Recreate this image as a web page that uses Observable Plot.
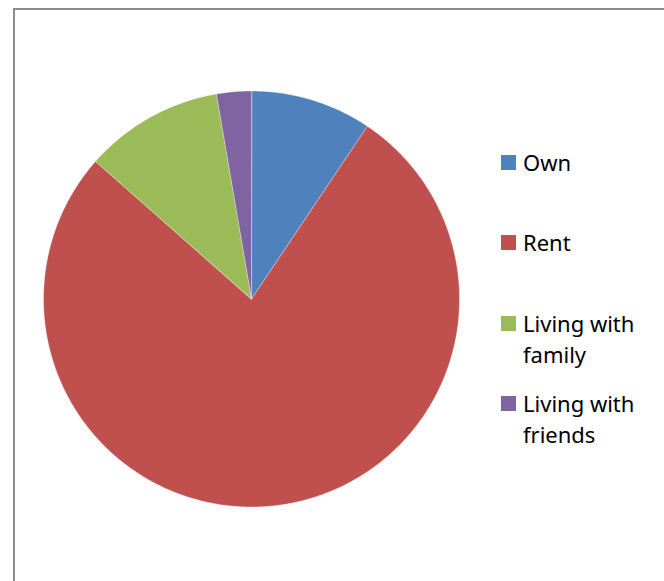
<!DOCTYPE html>
<html>
<head>
<meta charset="utf-8">
<script src="https://cdn.jsdelivr.net/npm/d3@7"></script>
<script src="https://cdn.jsdelivr.net/npm/@observablehq/plot@0.6"></script>
<style>
  html, body { margin: 0; padding: 0; background: #fff; width: 664px; height: 581px; overflow: hidden; }
  #wrap { position: relative; width: 664px; height: 581px; }
  #frame { position: absolute; left: 13px; top: 8px; width: 700px; height: 620px; border: 2px solid #8c8c8c; box-sizing: border-box; }
  #chart { position: absolute; left: 0; top: 0; }
  #legend { position: absolute; left: 501px; top: 0; font-family: "Noto Sans", sans-serif; font-size: 22px; color: #000; }
  .item { position: absolute; left: 0; width: 160px; }
  .sw { position: absolute; left: 0; width: 15px; height: 15px; }
  .lab { position: absolute; left: 22px; line-height: 31px; white-space: nowrap; }
</style>
</head>
<body>
<div id="wrap">
  <div id="frame"></div>
  <div id="chart"></div>
  <div id="legend"></div>
</div>
<script>
const categories = ["Own", "Rent", "Living with family", "Living with friends"];
const values = [9.4, 77.1, 10.8, 2.7];
const colors = ["#4F81BD", "#C0504D", "#9BBB59", "#8064A2"];
const legendLines = [["Own"], ["Rent"], ["Living with", "family"], ["Living with", "friends"]];

const W = 664, H = 581;
const cx = 251, cy = 298.5, R = 208;

const data = categories.map((c, i) => ({category: c, value: values[i]}));
const arcs = d3.pie().sort(null).value(d => d.value)(data);

// Build slice outlines in unit-circle coordinates (angle 0 at 12 o'clock, clockwise)
const pts = [];
arcs.forEach(a => {
  const cat = a.data.category;
  pts.push({category: cat, x: 0, y: 0});
  const n = Math.max(2, Math.ceil((a.endAngle - a.startAngle) / (Math.PI / 360)));
  for (let k = 0; k <= n; k++) {
    const t = a.startAngle + (a.endAngle - a.startAngle) * k / n;
    pts.push({category: cat, x: Math.sin(t), y: Math.cos(t)});
  }
});

const chart = Plot.plot({
  width: W,
  height: H,
  margin: 0,
  x: {domain: [-cx / R, (W - cx) / R], range: [0, W], axis: null},
  y: {domain: [-(H - cy) / R, cy / R], range: [H, 0], axis: null},
  color: {domain: categories, range: colors},
  marks: [
    Plot.line(pts, {x: "x", y: "y", z: "category", fill: "category", stroke: "#fff", strokeWidth: 0.6, strokeOpacity: 0.6, curve: "linear-closed"})
  ]
});
document.getElementById("chart").appendChild(chart);

// Legend
const legendTops = [155, 235, 316, 396];
const legend = document.getElementById("legend");
categories.forEach((c, i) => {
  const item = document.createElement("div");
  item.className = "item";
  item.style.top = legendTops[i] + "px";
  const sw = document.createElement("div");
  sw.className = "sw";
  sw.style.background = colors[i];
  sw.style.top = "0px";
  const lab = document.createElement("div");
  lab.className = "lab";
  lab.style.top = "-8px";
  lab.innerHTML = legendLines[i].join("<br>");
  item.appendChild(sw);
  item.appendChild(lab);
  legend.appendChild(item);
});
</script>
</body>
</html>
